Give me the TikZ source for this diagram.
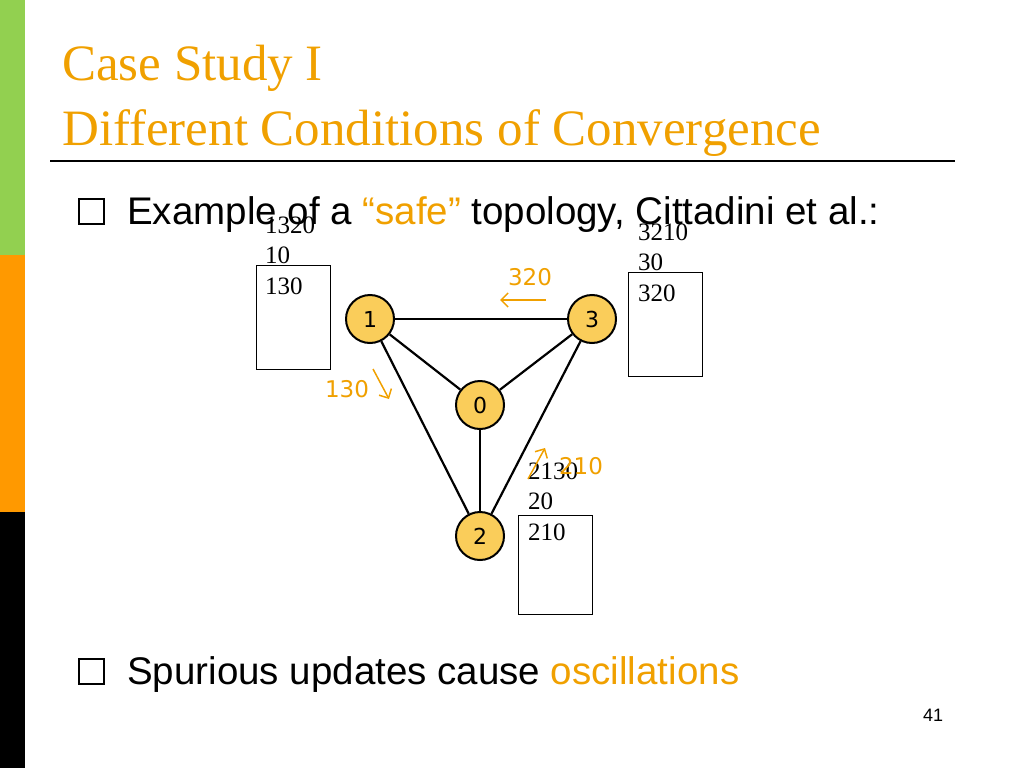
\documentclass[tikz,border=0pt]{standalone}
\usepackage{fontspec}
\usetikzlibrary{arrows.meta}
\setmainfont{Liberation Serif}
\newfontfamily\arial{Liberation Sans}
\newfontfamily\dvs{DejaVu Sans}
\definecolor{ttl}{RGB}{240,160,0}
\definecolor{nfill}{RGB}{250,205,90}
\definecolor{gbar}{RGB}{146,208,80}
\definecolor{obar}{RGB}{255,153,0}
\begin{document}
\begin{tikzpicture}[x=1pt,y=-1pt,
  rn/.style={circle,draw,line width=2pt,fill=nfill,minimum size=48pt,inner sep=0pt,font=\dvs\fontsize{22}{24}\selectfont},
  tbox/.style={draw,line width=0.9pt,align=left,anchor=north west,inner sep=0pt,font=\fontsize{25}{30.5}\selectfont},
  olab/.style={text=ttl,font=\dvs\fontsize{23}{26}\selectfont},
  oarr/.style={draw=ttl,line width=1.5pt,-{Straight Barb[length=7pt]}},
  edge/.style={line width=2.2pt}]
\useasboundingbox (0,0) rectangle (1024,768);
\fill[gbar] (0,0) rectangle (25,255);
\fill[obar] (0,255) rectangle (25,512);
\fill[black] (0,512) rectangle (25,768);
\node[anchor=base west,text=ttl,font=\fontsize{51}{55}\selectfont,inner sep=0] (t1) at (62,80) {Case Study I};
\node[anchor=base west,text=ttl,font=\fontsize{51}{55}\selectfont,inner sep=0] (t2) at (62,145) {Different Conditions of Convergence};
\draw[line width=2pt] (50,161) -- (955,161);
\draw[line width=2.4pt] (79,199) rectangle (104,224);
\node[anchor=base west,inner sep=0,font=\arial\fontsize{38.5}{40}\selectfont] (b1) at (127,224) {Example of a \textcolor{ttl}{“safe”} topology, Cittadini et al.:};
\draw[line width=2.4pt] (79,659) rectangle (104,684);
\node[anchor=base west,inner sep=0,font=\arial\fontsize{38.5}{40}\selectfont] (b2) at (127,684) {Spurious updates cause \textcolor{ttl}{oscillations}};
\node[anchor=base,inner sep=0,font=\arial\fontsize{18}{20}\selectfont] (pg) at (933,721) {41};
\node[rn] (n1) at (370,319) {1};
\node[rn] (n3) at (592,319) {3};
\node[rn] (n0) at (480,405) {0};
\node[rn] (n2) at (480,536) {2};
\draw[edge] (n1) -- (n3);
\draw[edge] (n1) -- (n0);
\draw[edge] (n3) -- (n0);
\draw[edge] (n1) -- (n2);
\draw[edge] (n3) -- (n2);
\draw[edge] (n0) -- (n2);
\draw[line width=0.9pt] (256,265) rectangle (330,369);
\node[anchor=base west,inner sep=0,font=\fontsize{25}{30.5}\selectfont,align=left] (bx1) at (265,294) {1320\\10\\130};
\draw[line width=0.9pt] (628,272) rectangle (702,376);
\node[anchor=base west,inner sep=0,font=\fontsize{25}{30.5}\selectfont,align=left] (bx3) at (638,301) {3210\\30\\320};
\draw[line width=0.9pt] (518,515) rectangle (592,614);
\node[anchor=base west,inner sep=0,font=\fontsize{25}{30.5}\selectfont,align=left] (bx2) at (528,540) {2130\\20\\210};
\node[olab] (l320) at (530,277) {320};
\coordinate (a1s) at (546,300); \coordinate (a1e) at (500,300);
\draw[oarr] (a1s) -- (a1e);
\node[olab] (l130) at (347,389) {130};
\coordinate (a2s) at (373,369); \coordinate (a2e) at (389,399);
\draw[oarr] (a2s) -- (a2e);
\node[olab] (l210) at (581,466) {210};
\coordinate (a3s) at (528,479); \coordinate (a3e) at (545,448);
\draw[oarr] (a3s) -- (a3e);
\end{tikzpicture}
\end{document}
